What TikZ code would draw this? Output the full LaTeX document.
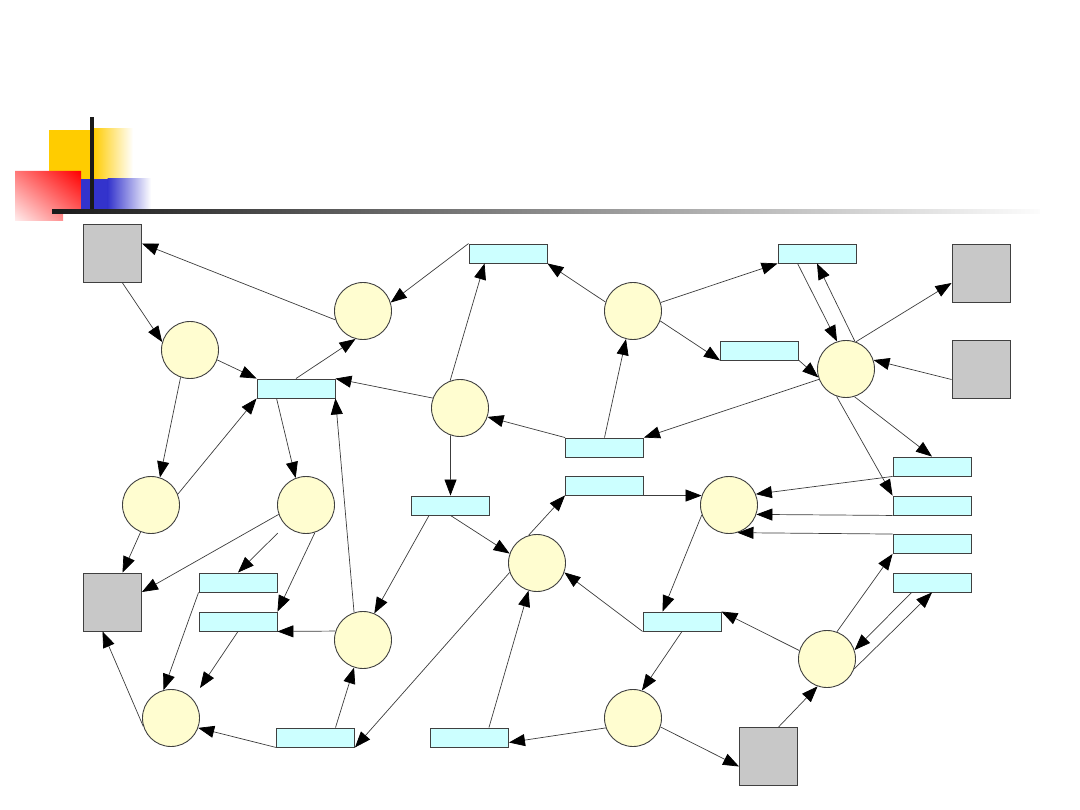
\documentclass[tikz,border=0pt]{standalone}
\usetikzlibrary{arrows.meta,shadings}
\definecolor{placefill}{RGB}{255,253,208}
\definecolor{transfill}{RGB}{204,255,255}
\definecolor{resfill}{RGB}{200,200,200}
\definecolor{edgecol}{RGB}{60,60,60}
\definecolor{bordercol}{RGB}{64,64,64}
\definecolor{gold}{RGB}{255,204,0}
\definecolor{bluebox}{RGB}{51,51,204}
\definecolor{barcol}{RGB}{26,26,26}
\definecolor{redUL}{RGB}{255,120,120}
\definecolor{redLR}{RGB}{255,110,110}
\definecolor{redLL}{RGB}{255,238,238}
\definecolor{lineend}{RGB}{252,252,252}
\begin{document}
\begin{tikzpicture}[x=1pt,y=-1pt,
  place/.style={circle, draw=bordercol, fill=placefill, minimum size=57pt, inner sep=0pt, line width=0.9pt},
  trans/.style={rectangle, draw=bordercol, fill=transfill, minimum width=78pt, minimum height=19pt, inner sep=0pt, line width=0.9pt},
  res/.style={rectangle, draw=bordercol, fill=resfill, minimum size=58pt, inner sep=0pt, line width=0.9pt},
  arr/.style={draw=edgecol, line width=0.7pt, -{Triangle[length=16pt,width=12pt,color=black]}}]
\useasboundingbox (0,0) rectangle (1080,810);
% header decoration
\fill[gold] (49,130) rectangle (94,179);
\shade[left color=gold, right color=white] (93,129) rectangle (133,179);
\shade[upper right=red, upper left=redUL, lower right=redLR, lower left=redLL]
  (15,171) -- (81,171) -- (81,214) -- (63,214) -- (63,221) -- (15,221) -- cycle;
\fill[bluebox] (81,179) rectangle (108,210);
\shade[left color=bluebox, right color=white] (107.5,179) rectangle (151,210);
\fill[barcol] (90,117) rectangle (94,214);
\shade[left color=barcol, right color=lineend] (52,210) rectangle (1040,213.5);
% resources
\node[res] (S1) at (112.5,253.5) {};
\node[res] (S2) at (981,273) {};
\node[res] (S3) at (981,369.5) {};
\node[res] (S4) at (112.5,602) {};
\node[res] (S5) at (768.5,756.5) {};
% places
\node[place] (C1) at (190,350) {};
\node[place] (C2) at (363,311) {};
\node[place] (C3) at (460,408) {};
\node[place] (C4) at (633,311) {};
\node[place] (C5) at (846,369) {};
\node[place] (C6) at (151,505) {};
\node[place] (C7) at (306,505) {};
\node[place] (C8) at (363,640) {};
\node[place] (C9) at (171,718) {};
\node[place] (C10) at (537,563) {};
\node[place] (C11) at (729,505) {};
\node[place] (C12) at (633,718) {};
\node[place] (C13) at (827,659) {};
% transitions
\node[trans] (R1) at (508,253.5) {};
\node[trans] (R2) at (817,253.5) {};
\node[trans] (R3) at (759.5,350.5) {};
\node[trans] (R4) at (296,388.5) {};
\node[trans] (R5) at (604.5,447.5) {};
\node[trans] (R6) at (604.5,485.5) {};
\node[trans] (R7) at (450.5,505.5) {};
\node[trans] (R8) at (932,466.5) {};
\node[trans] (R9) at (932,505.5) {};
\node[trans] (R10) at (932,544) {};
\node[trans] (R11) at (932,582.5) {};
\node[trans] (R12) at (238,582.5) {};
\node[trans] (R13) at (238,621.5) {};
\node[trans] (R14) at (682,621.5) {};
\node[trans] (R15) at (315.5,737.5) {};
\node[trans] (R16) at (469.5,737.5) {};
\coordinate (g50) at (200,688);
% edges
\draw[arr] (C2.198) -- ([yshift=10pt]S1.east);
\draw[arr] ([xshift=10pt]S1.south) -- (C1.164);
\draw[arr] (C1.340) -- (R4.north west);
\draw[arr] (R4.north) -- (C2.255);
\draw[arr] (C3.160) -- (R4.north east);
\draw[arr] (R1.north west) -- (C2.17);
\draw[arr] (C3.110) -- ([xshift=16pt]R1.south west);
\draw[arr] (C1.251) -- (C6.72);
\draw[arr] (C6.22) -- (R4.south west);
\draw[arr] ([xshift=20pt]R4.south west) -- (C7.111);
\draw[arr] (C8.108) -- (R4.south east);
\draw[arr] (C4.162) -- (R1.south east);
\draw[arr] (C4.17) -- (R2.south west);
\draw[arr] (C4.340) -- (R3.south west);
\draw[arr] (R5.north west) -- (C3.342);
\draw[arr] (R5.north) -- (C4.256);
\draw[arr] (C5.201) -- (R5.north east);
\draw[arr] (C3.251.5) -- (R7.north);
\draw[arr] ([xshift=20pt]R2.south west) -- (C5.108);
\draw[arr] (C5.72) -- (R2.south);
\draw[arr] (C5.70) -- ([yshift=-10pt]S2.west);
\draw[arr] ([yshift=-10pt]S3.west) -- (C5.18);
\draw[arr] (R3.south east) -- (C5.197);
\draw[arr] (C5.287) -- (R8.north);
\draw[arr] (C5.251) -- (R9.north west);
\draw[arr] (R8.south west) -- (C11.22);
\draw[arr] (R9.south west) -- (C11.341);
\draw[arr] (R10.north west) -- (C11.287);
\draw[arr] (C13.70) -- (R10.south west);
\draw[arr] ([xshift=19pt]R11.south west) -- (C13.18);
\draw[arr] (C13.340) -- (R11.south);
\draw[arr] (C13.163) -- (R14.north east);
\draw[arr] ([xshift=10pt]S5.north) -- (C13.251);
\draw[arr] (C12.342) -- ([yshift=-10pt]S5.west);
\draw[arr] (C11.200) -- ([xshift=20pt]R14.north west);
\draw[arr] (R14.south) -- (C12.72);
\draw[arr] (R6.south east) -- (C11.161);
\draw[arr] (C10.107) -- (R6.south west);
\draw[arr] (R7.south) -- (C10.161);
\draw[arr] (R14.south west) -- (C10.341);
\draw[arr] ([xshift=-20pt]R16.north east) -- (C10.253);
\draw[arr] (C12.200) -- ([yshift=-5pt]R16.east);
\draw[arr] (C10.199) -- (R15.south east);
\draw[arr] (C6.249) -- ([xshift=10pt]S4.north);
\draw[arr] (C7.199) -- ([yshift=10pt]S4.east);
\draw[arr, shorten <=11pt] (C7) -- (R12.north);
\draw[arr] (C7.288) -- (R13.north east);
\draw[arr] (C8.162) -- (R13.south east);
\draw[arr] (R12.south west) -- (C9.105);
\draw[arr] (R13.south) -- (g50);
\draw[arr] (C9.197) -- ([xshift=-10pt]S4.south);
\draw[arr] (R15.south west) -- (C9.340);
\draw[arr] ([xshift=20pt]R15.north) -- (C8.252);
\draw[arr] ([xshift=18pt]R7.south west) -- (C8.67);
\end{tikzpicture}
\end{document}
